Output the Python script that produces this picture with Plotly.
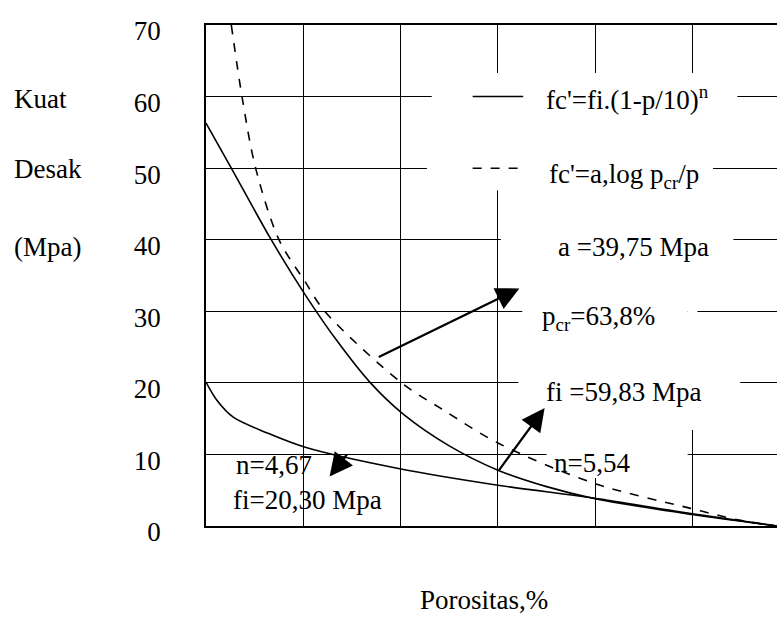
import plotly.graph_objects as go

# ---- data ----
# solid curve fc' = fi.(1-p/10)^n , fi = 59,83 Mpa, n = 5,54
upper_p = [0, 2.6, 6.7, 10.2, 13.5, 16.9, 20.3, 25.0, 30.0, 35.0, 40.0, 50.0, 58.68]
upper_fc = [56.3, 50, 40, 32.3, 25.8, 20, 15.6, 11.2, 7.8, 5.5, 3.8, 1.6, 0]

# dashed curve fc' = a.log pcr/p , a = 39,75 Mpa, pcr = 63,8 %
log_p = [2.6, 3.7, 5.1, 7.5, 10.2, 12.2, 20.1, 24.4, 30.0, 39.8, 49.7, 54.9, 58.68]
log_fc = [70, 60, 50, 40, 34.1, 30, 20, 16.2, 11.6, 6.0, 2.5, 0.8, 0]

# solid curve fi = 20,30 Mpa, n = 4,67
lower_p = [0, 1.1, 2.8, 6.3, 10.2, 19.9, 30.0, 39.8, 49.5, 58.68]
lower_fc = [20.1, 17.6, 15.2, 13.0, 11.0, 8.0, 5.7, 3.9, 1.8, 0]

y_ticks = [0, 10, 20, 30, 40, 50, 60, 70]
y_tick_labels = ["0", "10", "20", "30", "40", "50", "60", "70"]

FONT = "'Liberation Serif', 'DejaVu Serif', serif"
FS = 27

fig = go.Figure()
for xs, ys, dash in [(upper_p, upper_fc, "solid"), (log_p, log_fc, "dash"), (lower_p, lower_fc, "solid")]:
    fig.add_trace(go.Scatter(x=xs, y=ys, mode="lines",
                             line=dict(color="black", width=1.6, dash=dash, shape="spline", smoothing=0.9),
                             showlegend=False, hoverinfo="skip"))

# white boxes hiding grid lines behind the text block (as in the scan)
shapes = []
def hide(x0, x1, y0, y1):
    shapes.append(dict(type="rect", xref="x", yref="y", x0=x0, x1=x1, y0=y0, y1=y1,
                       fillcolor="white", line=dict(width=0), layer="between"))

hide(29.5, 30.5, 46.9, 63.3)
hide(39.5, 40.5, 6.7, 63.3)
hide(49.5, 50.5, 13.4, 63.3)
hide(23.2, 54.6, 59.4, 60.6)
hide(22.7, 52.1, 49.4, 50.6)
hide(30.3, 54.2, 39.4, 40.6)
hide(32.5, 49.5, 29.4, 30.6)
hide(32.1, 54.9, 19.4, 20.6)
hide(35.0, 49.5, 9.4, 10.6)

# legend line samples
shapes.append(dict(type="line", xref="x", yref="y", x0=27.4, x1=32.6, y0=60, y1=60,
                   line=dict(color="black", width=1.5), layer="above"))
shapes.append(dict(type="line", xref="x", yref="y", x0=27.4, x1=32.3, y0=50, y1=50,
                   line=dict(color="black", width=1.5, dash="dash"), layer="above"))

annotations = []
def txt(x, y, s, xref="x", yref="y", xanchor="center"):
    annotations.append(dict(x=x, y=y, xref=xref, yref=yref, text=s, showarrow=False,
                            xanchor=xanchor, yanchor="middle",
                            font=dict(family=FONT, size=FS, color="black")))

txt(43.3, 59.8, "fc'=fi.(1-p/10)<sup>n</sup>")
txt(43.0, 48.9, "fc'=a,log p<sub>cr</sub>/p")
txt(43.9, 39.0, "a =39,75 Mpa")
txt(40.3, 29.1, "p<sub>cr</sub>=63,8%")
txt(42.9, 18.7, "fi =59,83 Mpa")
txt(39.7, 8.8, "n=5,54")
txt(7.0, 8.5, "n=4,67")
txt(10.4, 3.6, "fi=20,30 Mpa")

# y-axis title words
txt(-0.3398, 59.7, "Kuat", xref="paper", xanchor="left")
txt(-0.3398, 49.9, "Desak", xref="paper", xanchor="left")
txt(-0.3398, 39.0, "(Mpa)", xref="paper", xanchor="left")
# x-axis title
txt(0.487, -0.148, "Porositas,%", xref="paper", yref="paper")

def arrow(x_tail, y_tail, x_head, y_head):
    annotations.append(dict(x=x_head, y=y_head, ax=x_tail, ay=y_tail, xref="x", yref="y",
                            axref="x", ayref="y", text="", showarrow=True,
                            arrowhead=2, arrowsize=2.1, arrowwidth=2.2, arrowcolor="black",
                            standoff=0, startstandoff=0))

arrow(17.6, 23.5, 32.2, 33.2)
arrow(30.0, 7.6, 34.8, 16.5)
arrow(14.6, 10.2, 12.7, 6.9)

fig.update_layout(
    width=777, height=622, autosize=False,
    margin=dict(l=206, r=0, t=25, b=96, autoexpand=False),
    paper_bgcolor="white", plot_bgcolor="white",
    shapes=shapes, annotations=annotations,
    showlegend=False,
    font=dict(family=FONT, color="black"),
    xaxis=dict(range=[0, 58.68], dtick=10, tick0=0, showgrid=True, gridcolor="black",
               gridwidth=1.3, showticklabels=False, ticks="", zeroline=False, automargin=False,
               showline=True, linecolor="black", linewidth=2, mirror=True, fixedrange=True),
    yaxis=dict(range=[0, 70], tickvals=y_ticks, ticktext=y_tick_labels, showgrid=True,
               gridcolor="black", gridwidth=1.3, ticks="", zeroline=False, automargin=False,
               showline=True, linecolor="black", linewidth=1.6, mirror=False,
               tickfont=dict(family=FONT, size=FS, color="black"),
               ticklabelstandoff=38, ticklabelshift=6, fixedrange=True),
)

fig.write_html("out.html", config={"responsive": False, "displayModeBar": False},
               post_script="document.body.style.margin='0';document.body.style.overflow='hidden';")
